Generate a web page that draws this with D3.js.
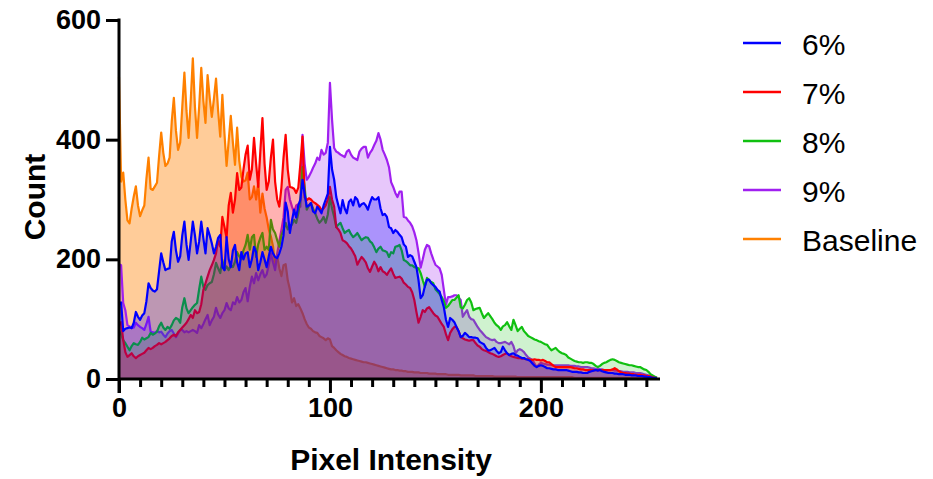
<!DOCTYPE html>
<html>
<head>
<meta charset="utf-8">
<script src="https://cdn.jsdelivr.net/npm/d3@7"></script>
<style>
  body { margin: 0; background: #fff; }
  svg { display: block; }
</style>
</head>
<body>
<div id="chart"></div>
<script>
// Histogram bins (pixel intensity 0..255)
const intensity = d3.range(0, 256);

const baseline = [
  505, 330, 345, 300, 265, 260, 285, 305, 322, 290, 272, 282, 290, 335, 370, 318,
  316, 322, 328, 372, 412, 378, 356, 360, 370, 430, 470, 415, 383, 395, 455, 512,
  448, 403, 465, 536, 455, 403, 455, 520, 465, 428, 508, 470, 438, 468, 502, 448,
  405, 475, 410, 356, 398, 440, 395, 358, 420, 365, 338, 330, 332, 345, 300, 304,
  322, 300, 328, 278, 310, 285, 270, 250, 238, 222, 190, 205, 185, 172, 190, 192,
  165, 150, 128, 135, 122, 125, 118, 110, 100, 92, 86, 84, 80, 78, 77, 72,
  70, 68, 65, 68, 66, 55, 52, 48, 45, 42, 40, 38, 37, 35, 34, 33,
  32, 31, 30, 29, 28, 28, 27, 26, 25, 24, 23, 22, 21, 20, 19, 18,
  17, 16, 16, 15, 15, 14, 14, 13, 13, 12, 12, 12, 11, 11, 11, 10,
  10, 10, 10, 9, 9, 9, 9, 8, 8, 8, 8, 8, 7, 7, 7, 7,
  7, 7, 6, 6, 6, 6, 6, 6, 6, 5, 5, 5, 5, 5, 5, 5,
  5, 5, 4, 4, 4, 4, 4, 4, 4, 4, 4, 4, 4, 3, 3, 3,
  3, 3, 3, 3, 3, 3, 3, 3, 3, 3, 3, 3, 3, 3, 3, 3,
  3, 3, 3, 3, 3, 3, 3, 3, 2, 2, 2, 2, 2, 2, 2, 2,
  2, 2, 2, 2, 2, 2, 2, 2, 2, 2, 2, 2, 2, 2, 2, 2,
  2, 2, 2, 2, 2, 2, 2, 2, 2, 2, 2, 2, 2, 2, 3, 2
];

const pct6 = [
  125, 128, 80, 84, 85, 86, 85, 94, 112, 104, 99, 106, 110, 130, 160, 152,
  148, 146, 150, 180, 210, 195, 182, 184, 185, 230, 246, 215, 196, 205, 240, 263,
  225, 199, 230, 263, 240, 210, 230, 263, 235, 210, 252, 240, 227, 210, 221, 236,
  241, 187, 182, 237, 200, 187, 215, 224, 195, 182, 212, 200, 210, 212, 187, 200,
  221, 212, 182, 195, 212, 200, 187, 205, 221, 210, 204, 202, 210, 221, 240, 295,
  280, 244, 265, 283, 270, 290, 300, 333, 310, 288, 290, 294, 280, 277, 288, 283,
  277, 290, 300, 310, 388, 350, 333, 304, 290, 277, 299, 285, 277, 296, 300, 290,
  304, 300, 288, 292, 294, 290, 283, 295, 304, 300, 300, 304, 285, 274, 276, 271,
  254, 252, 244, 249, 246, 241, 237, 225, 221, 204, 207, 205, 196, 187, 165, 135,
  140, 155, 166, 166, 160, 157, 154, 149, 146, 132, 120, 99, 87, 102, 99, 95,
  87, 80, 70, 72, 77, 74, 70, 70, 69, 69, 68, 62, 60, 58, 52, 48,
  48, 50, 52, 47, 43, 45, 54, 48, 43, 40, 42, 43, 40, 39, 37, 35,
  35, 33, 32, 30, 26, 22, 20, 22, 23, 22, 20, 18, 18, 17, 16, 16,
  15, 15, 15, 15, 15, 14, 13, 12, 12, 12, 11, 11, 10, 10, 10, 12,
  13, 14, 15, 14, 15, 13, 12, 11, 10, 10, 10, 9, 9, 8, 8, 8,
  7, 7, 7, 6, 6, 6, 5, 5, 5, 4, 4, 3, 3, 2, 2, 1
];

const pct7 = [
  90, 95, 65, 45, 37, 40, 43, 38, 35, 38, 40, 42, 44, 48, 52, 50,
  52, 55, 57, 60, 58, 60, 62, 65, 68, 72, 74, 72, 78, 82, 86, 90,
  94, 100, 107, 102, 115, 110, 112, 125, 149, 160, 171, 182, 190, 199, 210, 232,
  221, 271, 254, 236, 290, 311, 278, 300, 344, 316, 320, 350, 375, 390, 333, 350,
  403, 360, 321, 380, 436, 360, 316, 330, 370, 400, 330, 300, 288, 320, 370, 408,
  350, 321, 320, 318, 311, 320, 360, 405, 304, 299, 302, 300, 296, 294, 291, 288,
  282, 285, 290, 300, 321, 300, 288, 254, 250, 244, 232, 230, 227, 222, 218, 212,
  205, 191, 198, 204, 200, 195, 185, 179, 188, 196, 190, 180, 187, 180, 178, 174,
  180, 185, 176, 169, 170, 171, 168, 161, 158, 154, 152, 145, 132, 112, 94, 104,
  115, 112, 118, 120, 115, 110, 106, 104, 98, 92, 87, 75, 65, 77, 83, 87,
  87, 80, 70, 68, 66, 65, 64, 65, 65, 60, 56, 54, 50, 48, 47, 45,
  43, 42, 40, 38, 37, 38, 40, 42, 43, 40, 38, 37, 36, 35, 35, 34,
  34, 33, 33, 32, 32, 33, 32, 32, 31, 32, 30, 28, 28, 25, 22, 20,
  20, 20, 20, 20, 20, 20, 20, 19, 18, 18, 17, 16, 16, 15, 15, 15,
  15, 15, 15, 15, 15, 15, 15, 15, 15, 15, 16, 18, 16, 13, 11, 10,
  10, 9, 9, 8, 8, 7, 7, 7, 6, 6, 5, 5, 4, 3, 2, 1
];

const pct8 = [
  80, 75, 65, 60, 54, 48, 55, 60, 58, 57, 62, 69, 66, 68, 70, 77,
  74, 76, 79, 88, 94, 86, 82, 87, 84, 90, 98, 102, 100, 94, 120, 135,
  118, 110, 115, 120, 124, 127, 150, 171, 154, 149, 157, 160, 162, 175, 194, 185,
  177, 199, 182, 188, 182, 190, 187, 196, 212, 205, 200, 215, 224, 241, 216, 237,
  241, 204, 225, 236, 244, 216, 221, 216, 266, 250, 244, 232, 221, 240, 249, 261,
  250, 255, 258, 266, 261, 277, 300, 354, 321, 283, 290, 294, 285, 277, 268, 261,
  265, 271, 261, 275, 304, 285, 271, 254, 258, 261, 252, 244, 247, 249, 242, 237,
  240, 244, 238, 232, 235, 237, 236, 230, 227, 220, 212, 218, 221, 215, 214, 212,
  204, 212, 210, 221, 222, 224, 215, 199, 197, 194, 190, 190, 187, 186, 185, 177,
  165, 154, 169, 165, 162, 160, 150, 146, 142, 137, 130, 119, 122, 127, 132, 132,
  136, 140, 120, 118, 124, 132, 135, 128, 115, 117, 118, 119, 110, 102, 106, 110,
  105, 100, 94, 90, 87, 82, 88, 90, 95, 88, 82, 99, 90, 80, 84, 87,
  80, 76, 72, 70, 68, 66, 65, 63, 62, 60, 58, 57, 52, 48, 50, 52,
  48, 45, 43, 42, 40, 36, 34, 32, 30, 29, 28, 28, 27, 28, 28, 27,
  27, 25, 22, 20, 22, 25, 27, 28, 30, 32, 33, 32, 30, 28, 27, 26,
  25, 24, 23, 23, 22, 21, 20, 20, 18, 16, 15, 12, 8, 6, 4, 2
];

const pct9 = [
  192, 190, 127, 115, 90, 88, 85, 86, 94, 90, 87, 85, 82, 92, 104, 79,
  78, 77, 80, 78, 79, 74, 70, 76, 80, 82, 76, 70, 76, 82, 82, 78,
  80, 78, 80, 82, 80, 77, 90, 85, 92, 100, 107, 90, 98, 104, 119, 108,
  102, 110, 115, 127, 118, 115, 128, 125, 137, 128, 132, 145, 152, 130, 154, 171,
  160, 177, 165, 175, 182, 170, 175, 190, 210, 195, 182, 210, 230, 249, 270, 316,
  321, 300, 288, 278, 290, 292, 288, 408, 360, 333, 338, 345, 353, 360, 370, 366,
  383, 375, 378, 395, 495, 433, 386, 380, 378, 375, 373, 371, 380, 383, 375, 370,
  368, 366, 380, 385, 388, 388, 370, 378, 383, 391, 398, 411, 400, 383, 375, 366,
  354, 329, 321, 311, 304, 313, 313, 271, 270, 265, 261, 255, 245, 232, 211, 186,
  200, 216, 224, 222, 210, 200, 191, 188, 185, 174, 149, 124, 137, 137, 138, 140,
  140, 136, 132, 104, 110, 115, 104, 100, 99, 93, 87, 82, 78, 74, 70, 68,
  66, 65, 66, 62, 60, 60, 61, 62, 60, 58, 62, 55, 43, 48, 50, 48,
  45, 40, 36, 34, 32, 26, 20, 24, 27, 26, 25, 24, 24, 23, 23, 23,
  23, 23, 23, 23, 23, 23, 22, 22, 22, 21, 21, 20, 20, 20, 20, 19,
  18, 18, 17, 17, 16, 16, 15, 15, 15, 15, 15, 14, 14, 13, 13, 12,
  12, 12, 11, 11, 11, 10, 10, 10, 9, 8, 7, 6, 5, 4, 3, 2
];

const legendLabels = ["6%", "7%", "8%", "9%", "Baseline"];
const xMajorTicks = [0, 100, 200];
const xMinorTicks = [10, 20, 30, 40, 50, 60, 70, 80, 90, 110, 120, 130, 140, 150, 160, 170, 180, 190, 210, 220, 230, 240, 250];
const yTicks = [0, 200, 400, 600];

// series in drawing order (first legend entry ends up on top)
const series = [
  { name: "Baseline", values: baseline, color: "#ff8000", fillOpacity: 0.4 },
  { name: "9%", values: pct9, color: "#a020f0", fillOpacity: 0.25 },
  { name: "8%", values: pct8, color: "#10c010", fillOpacity: 0.2 },
  { name: "7%", values: pct7, color: "#ff0000", fillOpacity: 0.3 },
  { name: "6%", values: pct6, color: "#0000ff", fillOpacity: 0.26 }
];
const colorByName = {};
series.forEach(s => colorByName[s.name] = s.color);

const width = 933, height = 479;
const svg = d3.select("#chart").append("svg")
  .attr("width", width)
  .attr("height", height);

const x = d3.scaleLinear().domain([0, 256]).range([119, 659]);
const y = d3.scaleLinear().domain([0, 600]).range([379, 20]);

const area = d3.area()
  .x((d, i) => x(intensity[i]))
  .y0(y(0))
  .y1(d => y(d));

const line = d3.line()
  .x((d, i) => x(intensity[i]))
  .y(d => y(d));

// Areas + lines
series.forEach(s => {
  svg.append("path")
    .attr("d", area(s.values))
    .attr("fill", s.color)
    .attr("fill-opacity", s.fillOpacity)
    .attr("stroke", "none");
  svg.append("path")
    .attr("d", line(s.values))
    .attr("fill", "none")
    .attr("stroke", s.color)
    .attr("stroke-width", 2.2)
    .attr("stroke-linejoin", "round");
});

const fontFamily = "'Liberation Sans', Arial, Helvetica, sans-serif";

// Y axis
const yAxis = svg.append("g")
  .attr("transform", `translate(${x(0)},0)`)
  .call(d3.axisLeft(y).tickValues(yTicks).tickSize(13).tickPadding(5).tickFormat(d3.format("d")));
yAxis.select(".domain").remove();
yAxis.append("line")
  .attr("x1", 0).attr("x2", 0)
  .attr("y1", y(600) - 1.5).attr("y2", y(0) + 14)
  .attr("stroke", "#000").attr("stroke-width", 3);
yAxis.selectAll(".tick line").attr("stroke", "#000").attr("stroke-width", 3);
yAxis.selectAll(".tick text")
  .attr("fill", "#000")
  .style("font-family", fontFamily)
  .style("font-size", "27px")
  .style("font-weight", "bold");

// X axis
const xAxis = svg.append("g")
  .attr("transform", `translate(0,${y(0)})`)
  .call(d3.axisBottom(x).tickValues(xMajorTicks).tickSize(14).tickPadding(5).tickFormat(d3.format("d")));
xAxis.select(".domain").remove();
xAxis.append("line")
  .attr("x1", x(0)).attr("x2", x(256) + 1)
  .attr("y1", 0).attr("y2", 0)
  .attr("stroke", "#000").attr("stroke-width", 3);
xAxis.selectAll(".tick line").attr("stroke", "#000").attr("stroke-width", 3);
xAxis.selectAll(".tick text")
  .attr("fill", "#000")
  .style("font-family", fontFamily)
  .style("font-size", "27px")
  .style("font-weight", "bold");

const xMinor = svg.append("g")
  .attr("transform", `translate(0,${y(0)})`)
  .call(d3.axisBottom(x).tickValues(xMinorTicks).tickSize(8).tickFormat(""));
xMinor.select(".domain").remove();
xMinor.selectAll(".tick line").attr("stroke", "#000").attr("stroke-width", 3);

// Axis titles
svg.append("text")
  .attr("x", 391)
  .attr("y", 470)
  .attr("text-anchor", "middle")
  .style("font-family", fontFamily)
  .style("font-size", "30px")
  .style("font-weight", "bold")
  .text("Pixel Intensity");

svg.append("text")
  .attr("transform", "translate(45,197) rotate(-90)")
  .attr("text-anchor", "middle")
  .style("font-family", fontFamily)
  .style("font-size", "30px")
  .style("font-weight", "bold")
  .text("Count");

// Legend
const legend = svg.append("g");
legendLabels.forEach((label, i) => {
  const ly = 43 + i * 49;
  legend.append("line")
    .attr("x1", 743).attr("x2", 781)
    .attr("y1", ly).attr("y2", ly)
    .attr("stroke", colorByName[label])
    .attr("stroke-width", 2.5);
  legend.append("text")
    .attr("x", 802)
    .attr("y", ly + 12)
    .style("font-family", fontFamily)
    .style("font-size", "30px")
    .text(label);
});
</script>
</body>
</html>
